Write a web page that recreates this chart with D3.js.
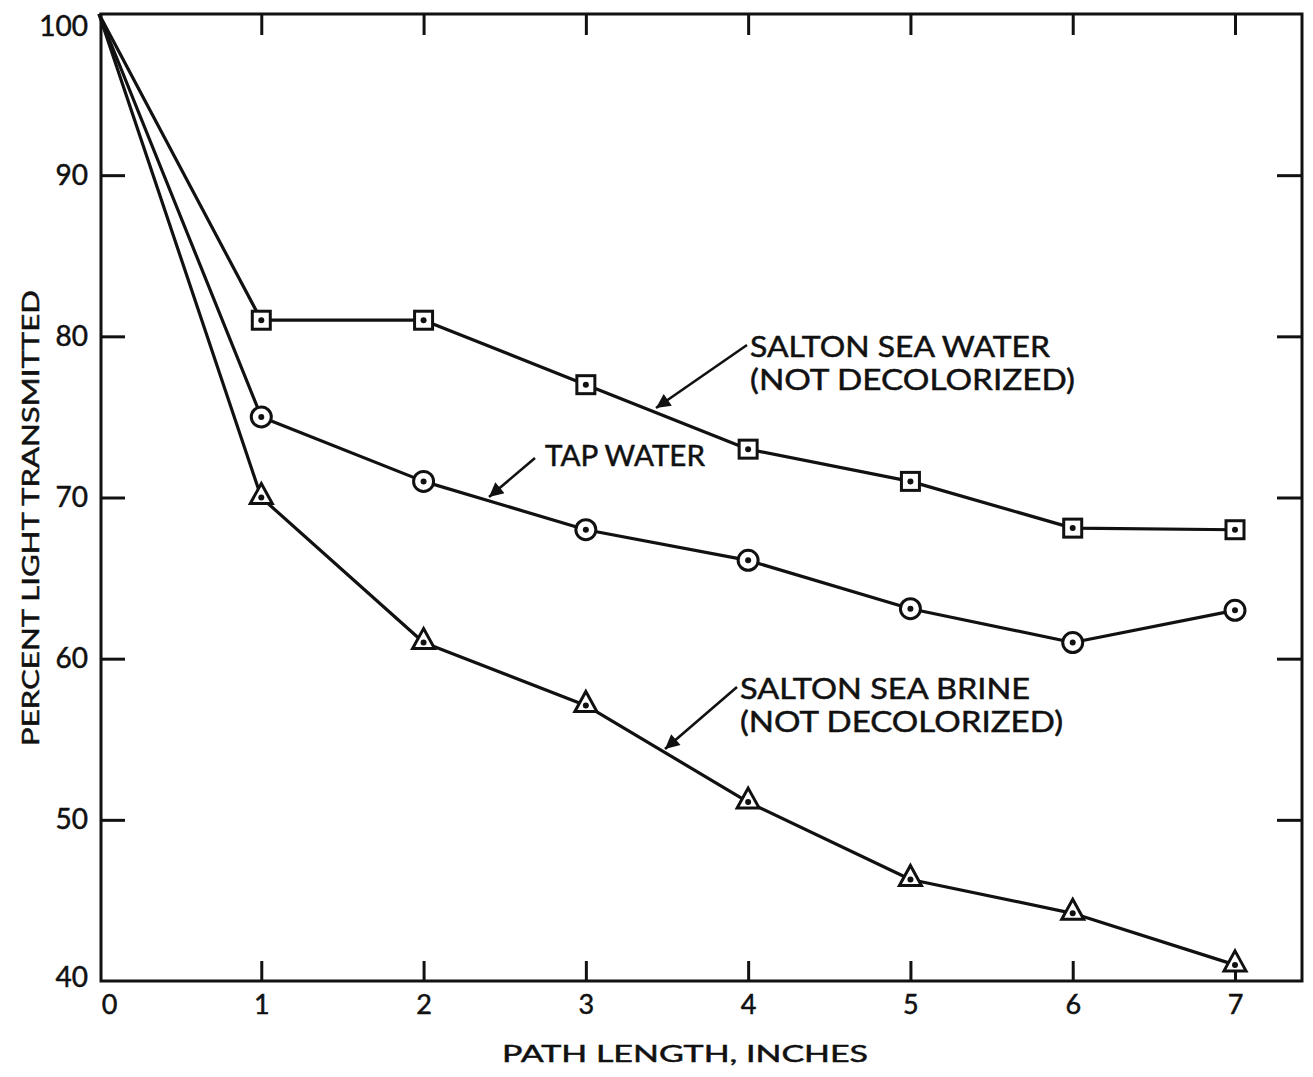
<!DOCTYPE html>
<html>
<head>
<meta charset="utf-8">
<script src="https://cdn.jsdelivr.net/npm/d3@7"></script>
<style>
  html, body { margin: 0; padding: 0; background: #fff; }
  text { font-family: "Lato", "Noto Sans", sans-serif; fill: #111; stroke: #111; stroke-width: 0.5; }
</style>
</head>
<body>
<svg id="chart" width="1313" height="1077"></svg>
<script>
// ---- data ----
const pathLength = [0, 1, 2, 3, 4, 5, 6, 7];
const saltonSeaWater = [100, 81, 81, 77, 73, 71, 68.1, 68];
const tapWater = [100, 75, 71, 68, 66.1, 63.1, 61, 63];
const saltonSeaBrine = [100, 70, 61, 57.1, 51.1, 46.3, 44.2, 41];
const xTickValues = [0, 1, 2, 3, 4, 5, 6, 7];
const yTickValues = [40, 50, 60, 70, 80, 90, 100];
const xTitle = "PATH LENGTH,  INCHES";
const yTitle = "PERCENT LIGHT TRANSMITTED";

const svg = d3.select("#chart");
const frame = { left: 101, right: 1302, top: 14, bottom: 981 };

const x = d3.scaleLinear().domain([0, 7]).range([99, 1235]);
const y = d3.scaleLinear().domain([40, 100]).range([frame.bottom, frame.top]);

const ink = "#111";

// frame
svg.append("rect")
  .attr("x", frame.left).attr("y", frame.top)
  .attr("width", frame.right - frame.left).attr("height", frame.bottom - frame.top)
  .attr("fill", "none").attr("stroke", ink).attr("stroke-width", 3);

function styleAxis(g) {
  g.select(".domain").remove();
  g.selectAll(".tick line").attr("stroke", ink).attr("stroke-width", 3);
}

// bottom axis
svg.append("g")
  .attr("transform", `translate(0,${frame.bottom})`)
  .call(d3.axisBottom(x).tickValues(xTickValues).tickSize(0).tickPadding(14).tickFormat(d3.format("d")))
  .call(styleAxis)
  .call(g => g.selectAll("text").attr("font-size", 27).attr("font-family", "Lato").attr("fill", ink)
      .attr("dx", d => d === 0 ? 10 : 0));
svg.append("g")
  .attr("transform", `translate(0,${frame.bottom})`)
  .call(d3.axisBottom(x).tickValues(xTickValues.slice(1)).tickSize(-20).tickFormat(""))
  .call(styleAxis);
// top axis
svg.append("g")
  .attr("transform", `translate(0,${frame.top})`)
  .call(d3.axisTop(x).tickValues(xTickValues.slice(1)).tickSize(-21).tickFormat(""))
  .call(styleAxis);
// left axis
svg.append("g")
  .attr("transform", `translate(${frame.left},0)`)
  .call(d3.axisLeft(y).tickValues(yTickValues).tickSize(0).tickPadding(13).tickFormat(d3.format("d")))
  .call(styleAxis)
  .call(g => g.selectAll("text").attr("font-size", 28).attr("font-family", "Lato").attr("fill", ink)
      .attr("dy", d => d === 100 ? "0.75em" : d === 40 ? "0.2em" : "0.32em"));
svg.append("g")
  .attr("transform", `translate(${frame.left},0)`)
  .call(d3.axisLeft(y).tickValues(yTickValues.slice(1, -1)).tickSize(-24).tickFormat(""))
  .call(styleAxis);
// right axis
svg.append("g")
  .attr("transform", `translate(${frame.right},0)`)
  .call(d3.axisRight(y).tickValues(yTickValues.slice(1, -1)).tickSize(-25).tickFormat(""))
  .call(styleAxis);

// axis titles
svg.append("text")
  .attr("x", 685).attr("y", 1062)
  .attr("text-anchor", "middle")
  .attr("font-size", 24)
  .attr("textLength", 366).attr("lengthAdjust", "spacingAndGlyphs")
  .text(xTitle);
svg.append("text")
  .attr("transform", "translate(39,518) rotate(-90)")
  .attr("text-anchor", "middle")
  .attr("font-size", 24)
  .attr("textLength", 456).attr("lengthAdjust", "spacingAndGlyphs")
  .text(yTitle);

// series lines
const line = d3.line().x((d, i) => x(pathLength[i])).y(d => y(d));
[saltonSeaWater, tapWater, saltonSeaBrine].forEach(s => {
  svg.append("path").datum(s)
    .attr("d", line)
    .attr("fill", "none").attr("stroke", ink).attr("stroke-width", 3.2)
    .attr("stroke-linejoin", "round");
});

// markers (skip origin)
function pts(series) {
  return series.map((v, i) => ({ x: pathLength[i], v })).filter(d => d.x > 0);
}
const mk = svg.append("g");
mk.selectAll("rect.sq").data(pts(saltonSeaWater)).join("rect")
  .attr("x", d => x(d.x) - 9).attr("y", d => y(d.v) - 9)
  .attr("width", 18).attr("height", 18)
  .attr("fill", "#fff").attr("stroke", ink).attr("stroke-width", 3);
mk.selectAll("circle.ci").data(pts(tapWater)).join("circle")
  .attr("cx", d => x(d.x)).attr("cy", d => y(d.v)).attr("r", 10)
  .attr("fill", "#fff").attr("stroke", ink).attr("stroke-width", 3);
mk.selectAll("path.tr").data(pts(saltonSeaBrine)).join("path")
  .attr("d", d => {
    const cx = x(d.x), cy = y(d.v);
    return `M${cx},${cy - 14} L${cx + 11},${cy + 6} L${cx - 11},${cy + 6} Z`;
  })
  .attr("fill", "#fff").attr("stroke", ink).attr("stroke-width", 3).attr("stroke-linejoin", "miter");
const dots = [].concat(pts(saltonSeaWater), pts(tapWater), pts(saltonSeaBrine));
mk.selectAll("circle.dot").data(dots).join("circle")
  .attr("cx", d => x(d.x)).attr("cy", d => y(d.v)).attr("r", 3)
  .attr("fill", ink);

// annotations with arrows
svg.append("defs").append("marker")
  .attr("id", "arrow").attr("viewBox", "0 0 10 10")
  .attr("refX", 10).attr("refY", 5)
  .attr("markerWidth", 8.5).attr("markerHeight", 5.5)
  .attr("markerUnits", "strokeWidth")
  .attr("orient", "auto")
  .append("path").attr("d", "M0,0 L10,5 L0,10 Z").attr("fill", ink);

function arrow(x1, y1, x2, y2) {
  svg.append("line")
    .attr("x1", x1).attr("y1", y1).attr("x2", x2).attr("y2", y2)
    .attr("stroke", ink).attr("stroke-width", 2.6)
    .attr("marker-end", "url(#arrow)");
}
function label(lines, x0, y0, w) {
  lines.forEach((t, i) => {
    svg.append("text")
      .attr("x", x0).attr("y", y0 + i * 33)
      .attr("font-size", 29)
      .attr("textLength", w[i]).attr("lengthAdjust", "spacingAndGlyphs")
      .text(t);
  });
}
label(["SALTON SEA WATER", "(NOT DECOLORIZED)"], 750, 357, [300, 325]);
arrow(747, 345, 656, 408);
label(["TAP WATER"], 545, 466, [160]);
arrow(535, 458, 489, 497);
label(["SALTON SEA BRINE", "(NOT DECOLORIZED)"], 740, 699, [290, 323]);
arrow(737, 687, 665, 749);
</script>
</body>
</html>
